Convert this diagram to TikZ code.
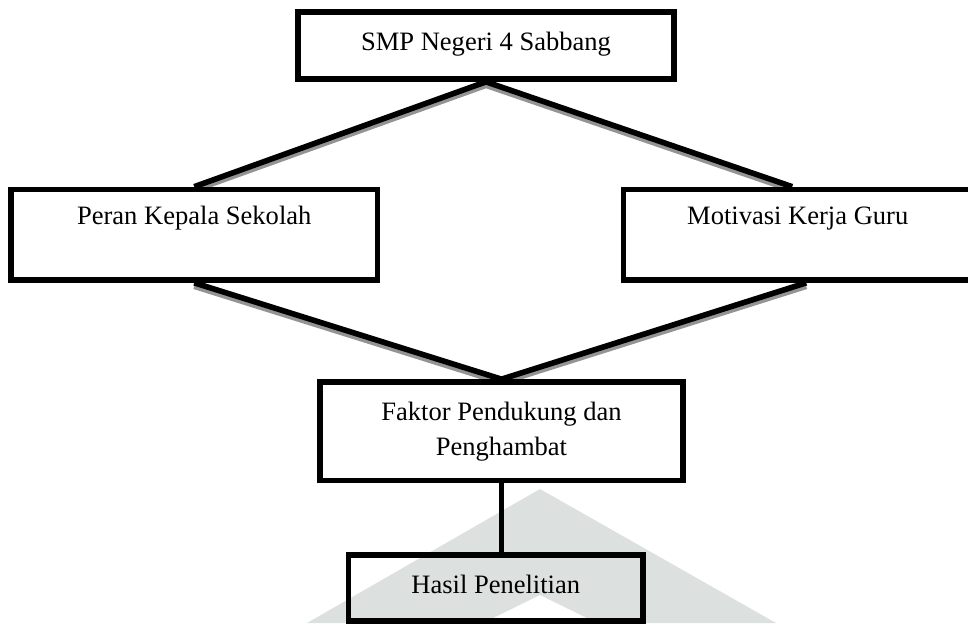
\documentclass[tikz,border=0pt]{standalone}
\usepackage{fontspec}
\setmainfont{Liberation Serif}
\usetikzlibrary{positioning, calc, backgrounds}
\definecolor{wmark}{RGB}{220,224,222}
\tikzset{
  box/.style={draw, line width=3.2pt, inner xsep=0pt, inner ysep=0pt, align=center,
              font=\fontsize{15.1}{19.9}\selectfont},
  lnk/.style={draw, line width=3.2pt},
  lnkshadow/.style={draw=black!42, line width=3.2pt, transform canvas={yshift=-2pt}}
}

\begin{document}
\begin{tikzpicture}
\useasboundingbox (0,0) rectangle (19.36,-12.46);
\clip (0,0) rectangle (19.36,-12.46);

\node[box, fill=white, minimum width=7.52cm, text height=0.76cm, text depth=0.58cm] (smp) at (9.72,-0.91) {SMP Negeri 4 Sabbang};
\node[box, fill=white, minimum width=7.33cm, text height=0.69cm, text depth=1.12cm] (kepsek) at (3.885,-4.695) {Peran Kepala Sekolah};
\node[box, fill=white, minimum width=6.97cm, text height=0.69cm, text depth=1.12cm] (guru) at (15.955,-4.695) {Motivasi Kerja Guru};
\node[box, fill=white, minimum width=7.26cm, minimum height=1.97cm] (faktor) at (10.03,-8.625) {Faktor Pendukung dan\\Penghambat};
\node[box, minimum width=5.89cm, text height=0.76cm, text depth=0.56cm] (hasil) at (9.915,-11.76) {Hasil Penelitian};

\begin{pgfonlayer}{background}
% watermark
\fill[wmark, even odd rule] (6.14,-12.46) -- (10.8,-9.78) -- (15.52,-12.46) -- cycle
     (9.66,-12.46) -- (10.8,-11.9) -- (11.94,-12.46) -- cycle;
% shadows
\path[lnkshadow]
    (smp.south) -- (kepsek.north)
    (smp.south) -- ([xshift=-0.11cm]guru.north)
    (kepsek.south) -- (faktor.north)
    ([xshift=0.17cm]guru.south) -- (faktor.north);
\path[lnk]
    (smp.south) -- (kepsek.north)
    (smp.south) -- ([xshift=-0.11cm]guru.north)
    (kepsek.south) -- (faktor.north)
    ([xshift=0.17cm]guru.south) -- (faktor.north);
\draw[lnk] (faktor.south) -- (faktor.south |- hasil.north);
\end{pgfonlayer}
\end{tikzpicture}
\end{document}
